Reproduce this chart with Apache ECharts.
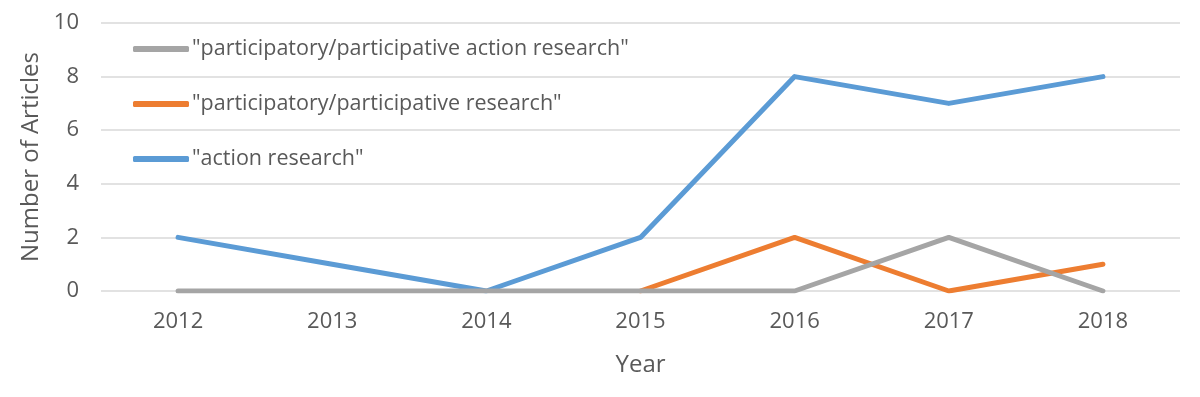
<!DOCTYPE html>
<html>
<head>
<meta charset="utf-8">
<script src="https://cdn.jsdelivr.net/npm/echarts@6/dist/echarts.min.js"></script>
<style>
  html, body { margin: 0; padding: 0; background: #fff; }
  #main { width: 1200px; height: 397px; }
</style>
</head>
<body>
<div id="main"></div>
<script>
var years = ['2012', '2013', '2014', '2015', '2016', '2017', '2018'];
var parActionResearch = [0, 0, 0, 0, 0, 2, 0];
var parResearch = [null, null, null, 0, 2, 0, 1];
var actionResearch = [2, 1, 0, 2, 8, 7, 8];
var yTicks = [0, 2, 4, 6, 8, 10];

var nameGray = '"participatory/participative action research"';
var nameOrange = '"participatory/participative research"';
var nameBlue = '"action research"';

var font = 'Open Sans';
var txt = '#595959';

var myChart = echarts.init(document.getElementById('main'));

function lineSeries(name, data, color, z) {
    return {
        name: name,
        type: 'line',
        data: data,
        symbol: 'none',
        z: z,
        color: color,
        lineStyle: { width: 5, color: color, cap: 'round', join: 'round' }
    };
}

var option = {
    animation: false,
    textStyle: { fontFamily: font },
    grid: { left: 101, right: 20, top: 23, bottom: 106 },
    legend: {
        orient: 'vertical',
        left: 133,
        top: 38,
        padding: 0,
        itemWidth: 56,
        itemHeight: 6,
        itemGap: 33,
        icon: 'roundRect',
        textStyle: { color: txt, fontSize: 21.5, fontFamily: font, lineHeight: 21.5, padding: [0, 0, 0, -2] },
        data: [nameGray, nameOrange, nameBlue]
    },
    xAxis: {
        type: 'category',
        data: years,
        boundaryGap: true,
        name: 'Year',
        nameLocation: 'middle',
        nameGap: 62,
        nameTextStyle: { color: txt, fontSize: 24, fontFamily: font },
        axisLine: { show: false },
        axisTick: { show: false },
        axisLabel: { color: txt, fontSize: 22, fontFamily: font, margin: 20 }
    },
    yAxis: {
        type: 'value',
        min: yTicks[0],
        max: yTicks[yTicks.length - 1],
        interval: 2,
        name: 'Number of Articles',
        nameLocation: 'middle',
        nameGap: 56,
        nameTextStyle: { color: txt, fontSize: 24, fontFamily: font },
        axisLabel: { color: txt, fontSize: 22, fontFamily: font, margin: 22 },
        splitLine: { lineStyle: { color: '#d9d9d9', width: 1.5 } }
    },
    series: [
        lineSeries(nameBlue, actionResearch, '#5B9BD5', 2),
        lineSeries(nameOrange, parResearch, '#ED7D31', 3),
        lineSeries(nameGray, parActionResearch, '#A5A5A5', 4)
    ]
};

myChart.setOption(option);
</script>
</body>
</html>
